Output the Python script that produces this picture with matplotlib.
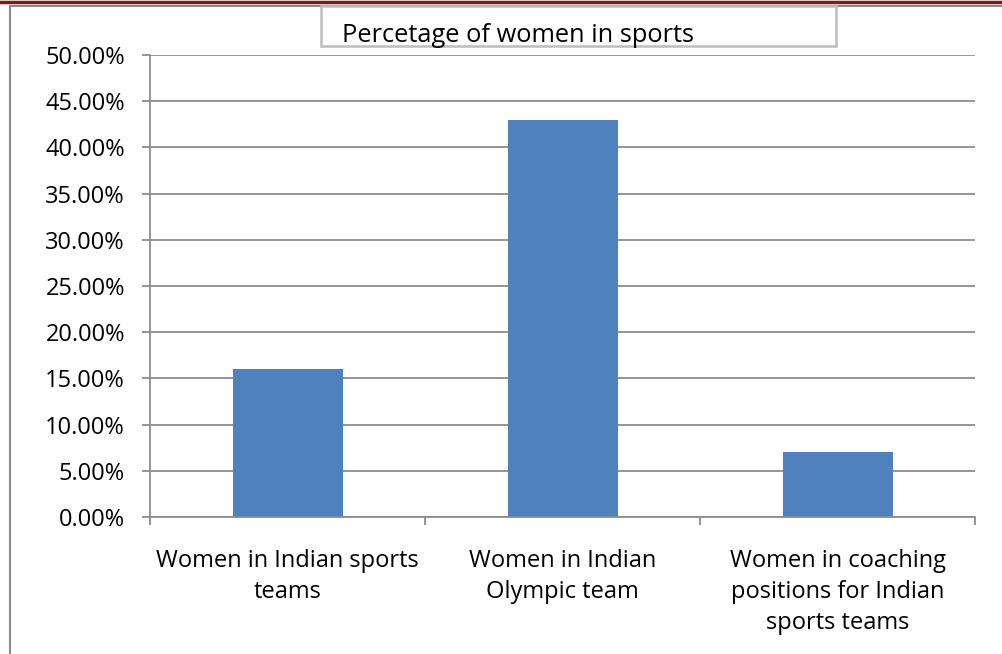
#!/usr/bin/env python3
'''
Bar chart: share of women in Indian sports
'''
import matplotlib.pyplot as plt
from matplotlib.lines import Line2D
from matplotlib.patches import Rectangle
from matplotlib.ticker import FuncFormatter, MultipleLocator

W, H = 1002, 654
BAR_COLOR = '#4f81bd'
GRID_COLOR = '#8c8c8c'
FRAME_COLOR = '#8a8a8a'

TITLE = 'Percetage of women in sports'
CATEGORIES = ['Women in Indian sports\nteams',
              'Women in Indian\nOlympic team',
              'Women in coaching\npositions for Indian\nsports teams']
VALUES = [0.16, 0.43, 0.07]

plt.rcParams['font.family'] = ['Open Sans', 'DejaVu Sans']


def px(x, y):
    ''' Pixel position (from top-left) to figure fraction '''
    return x / W, 1 - y / H


def main():
    fig = plt.figure(figsize=(W / 100, H / 100), dpi=100)
    fig.set_facecolor('white')

    # plot area
    l, t, r, b = 150, 55, 975, 517
    ax = fig.add_axes([l / W, 1 - b / H, (r - l) / W, (b - t) / H])
    x = range(len(VALUES))
    ax.bar(x, VALUES, width=0.4, color=BAR_COLOR, zorder=3)

    ax.set_xlim(-0.5, len(VALUES) - 0.5)
    ax.set_ylim(0, 0.5)
    ax.yaxis.set_major_locator(MultipleLocator(0.05))
    ax.yaxis.set_major_formatter(FuncFormatter(lambda v, _: '%.2f%%' % (v * 100)))
    ax.grid(axis='y', color=GRID_COLOR, linewidth=1.3, zorder=0)

    ax.set_xticks(list(x))
    ax.set_xticklabels(CATEGORIES, fontsize=17, linespacing=1.38)
    ax.set_xticks([i - 0.5 for i in range(len(VALUES) + 1)], minor=True)
    ax.tick_params(axis='x', which='major', length=0, pad=23)
    ax.tick_params(axis='x', which='minor', length=6, width=1.3,
                   color=GRID_COLOR, direction='out')
    ax.tick_params(axis='y', length=6, width=1.3, color=GRID_COLOR,
                   labelsize=17, pad=12)

    for side in ('top', 'right'):
        ax.spines[side].set_visible(False)
    for side in ('left', 'bottom'):
        ax.spines[side].set_color(GRID_COLOR)
        ax.spines[side].set_linewidth(1.3)
        ax.spines[side].set_zorder(4)

    # page rule and outer chart frame
    fig.add_artist(Line2D([0, 1], [1 - 1.5 / H] * 2, color='#6b2222',
                          linewidth=2.5))
    x0, y0 = px(9.5, 6)
    fig.add_artist(Line2D([x0, 1], [y0, y0], color=FRAME_COLOR, linewidth=1.5))
    fig.add_artist(Line2D([x0, x0], [y0, 0], color=FRAME_COLOR, linewidth=1.5))

    # title box
    bx0, by0 = px(321, 46)
    bx1, by1 = px(836, 6)
    fig.add_artist(Rectangle((bx0, by0), bx1 - bx0, by1 - by0,
                             transform=fig.transFigure, facecolor='white',
                             edgecolor='#bdbdbd', linewidth=1.8, zorder=5))
    tx, ty = px(342, 35)
    fig.text(tx, ty, TITLE, fontsize=18.3, ha='left', va='center', zorder=6)

    fig.savefig('out.png', dpi=100)


if __name__ == '__main__':
    main()
